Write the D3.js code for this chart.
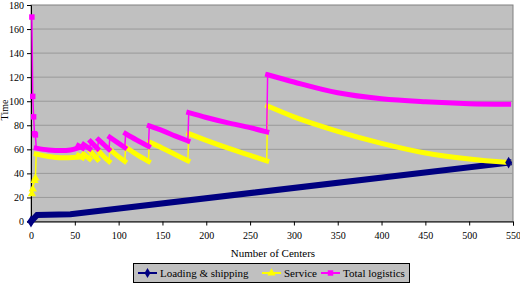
<!DOCTYPE html>
<html>
<head>
<meta charset="utf-8">
<script src="https://cdn.jsdelivr.net/npm/d3@7"></script>
<style>
  body { margin: 0; background: #fff; }
</style>
</head>
<body>
<svg id="chart" width="520" height="284"></svg>
<script>
// values: [number of centers, time]
const loadingSegs = [
  [[0, 0], [7, 5.5], [45, 6], [545, 49]]
];
const serviceSegs = [
  [[1, 23], [2, 27], [4, 34], [5, 36]],
  [[6, 56], [20, 54], [35, 53], [53, 53.5]],
  [[54, 55], [59, 53]],
  [[60, 56], [67, 52]],
  [[68, 58], [76, 51.5]],
  [[77, 59], [83, 54], [89, 50]],
  [[90, 60], [98, 55], [107, 50]],
  [[108, 62], [120, 56], [134, 50]],
  [[135, 66], [150, 61], [165, 55.5], [179, 50.5]],
  [[180, 73], [200, 67.5], [225, 61], [250, 55], [269, 50.5]],
  [[270, 96], [300, 87], [350, 75], [400, 65], [450, 57], [500, 52], [545, 49]]
];
const totalSegs = [
  [[1, 170], [2, 104], [3, 87], [4, 73], [5, 72]],
  [[6, 61], [20, 59.5], [35, 59], [45, 59.5], [53, 61]],
  [[54, 63], [59, 61]],
  [[60, 64], [67, 60.5]],
  [[68, 66.5], [76, 60.5]],
  [[77, 68], [83, 64], [89, 60]],
  [[90, 70], [98, 66], [107, 61.5]],
  [[108, 73], [120, 68], [134, 62.5]],
  [[135, 79.5], [150, 75.5], [165, 71], [179, 67]],
  [[180, 90.5], [200, 86.5], [225, 82], [250, 78], [269, 74.5]],
  [[270, 122], [300, 116], [350, 107], [400, 102], [450, 99.5], [500, 98], [545, 97.5]]
];
const seriesNames = ["Loading & shipping", "Service", "Total logistics"];
const xTicks = d3.range(0, 551, 50);
const yTicks = d3.range(0, 181, 20);

const colors = ["#000080", "#ffff00", "#ff00ff"];
const symbols = [d3.symbolDiamond, d3.symbolTriangle, d3.symbolSquare];
const serif = "'Liberation Serif', 'Times New Roman', serif";

const svg = d3.select("#chart");
const plotL = 31, plotT = 5, plotR = 513, plotB = 221.5;

const x = d3.scaleLinear().domain([0, 550]).range([plotL, plotR]);
const y = d3.scaleLinear().domain([0, 180]).range([plotB, plotT]);

// plot area
svg.append("rect")
  .attr("x", plotL).attr("y", plotT)
  .attr("width", plotR - plotL).attr("height", plotB - plotT)
  .attr("fill", "#c0c0c0")
  .attr("stroke", "#808080");

// grid
svg.append("g")
  .selectAll("line")
  .data(yTicks.slice(1, -1))
  .enter().append("line")
  .attr("x1", plotL).attr("x2", plotR)
  .attr("y1", d => y(d)).attr("y2", d => y(d))
  .attr("stroke", "#999999");

// axes
const xAxis = svg.append("g")
  .attr("transform", `translate(0,${plotB})`)
  .call(d3.axisBottom(x).tickValues(xTicks).tickSize(4).tickPadding(6));
const yAxis = svg.append("g")
  .attr("transform", `translate(${plotL},0)`)
  .call(d3.axisLeft(y).tickValues(yTicks).tickSize(4).tickPadding(3));
[xAxis, yAxis].forEach(a => {
  a.attr("font-family", serif).attr("font-size", 10);
  a.selectAll("path, line").attr("stroke", "#000");
});

svg.append("text")
  .attr("x", 273).attr("y", 257)
  .attr("text-anchor", "middle")
  .attr("font-family", serif).attr("font-size", 11)
  .text("Number of Centers");

svg.append("text")
  .attr("transform", "translate(8,110) rotate(-90)")
  .attr("text-anchor", "middle")
  .attr("font-family", serif).attr("font-size", 10)
  .text("Time");

// lines
const curved = d3.line().x(d => x(d[0])).y(d => y(d[1])).curve(d3.curveMonotoneX);
const thin = d3.line().x(d => x(d[0])).y(d => y(d[1]));

function drawSeries(segs, i) {
  const g = svg.append("g");
  const col = colors[i];
  // thin connectors between segments
  const joins = [];
  for (let k = 0; k < segs.length - 1; k++) {
    joins.push([segs[k][segs[k].length - 1], segs[k + 1][0]]);
  }
  g.selectAll(".join").data(joins).enter().append("path")
    .attr("d", thin).attr("fill", "none")
    .attr("stroke", col).attr("stroke-width", 1.5);

  segs.forEach((seg, k) => {
    const sparse = (i > 0 && k === 0);
    if (sparse) {
      g.append("path").attr("d", thin(seg)).attr("fill", "none")
        .attr("stroke", col).attr("stroke-width", 1.5);
      g.selectAll(".m" + k).data(seg).enter().append("path")
        .attr("d", d3.symbol().type(symbols[i]).size(30))
        .attr("transform", d => `translate(${x(d[0])},${y(d[1])})`)
        .attr("fill", col);
    } else {
      g.append("path").attr("d", i === 0 ? thin(seg) : curved(seg)).attr("fill", "none")
        .attr("stroke", col).attr("stroke-width", i === 0 ? 6 : 5)
        .attr("stroke-linecap", "square");
    }
  });
  return g;
}
drawSeries(loadingSegs, 0);
drawSeries(serviceSegs, 1);
drawSeries(totalSegs, 2);

// diamonds at ends of loading line
svg.selectAll(".lend")
  .data([loadingSegs[0][0], loadingSegs[0][loadingSegs[0].length - 1]])
  .enter().append("path")
  .attr("d", d3.symbol().type(d3.symbolDiamond).size(40))
  .attr("transform", d => `translate(${x(d[0])},${y(d[1])})`)
  .attr("fill", colors[0]);

// legend
const legend = svg.append("g");
legend.append("rect")
  .attr("x", 133.5).attr("y", 263.5)
  .attr("width", 276).attr("height", 19)
  .attr("fill", "#c0c0c0").attr("stroke", "#000");
const legX = [138, 262, 321];
seriesNames.forEach((name, i) => {
  const gx = legX[i];
  legend.append("line")
    .attr("x1", gx).attr("x2", gx + 19)
    .attr("y1", 273).attr("y2", 273)
    .attr("stroke", colors[i]).attr("stroke-width", 2);
  legend.append("path")
    .attr("d", d3.symbol().type(symbols[i]).size(30))
    .attr("transform", `translate(${gx + 9.5},273)`)
    .attr("fill", colors[i]);
  legend.append("text")
    .attr("x", gx + 22).attr("y", 277)
    .attr("font-family", serif).attr("font-size", 11)
    .text(name);
});
</script>
</body>
</html>
